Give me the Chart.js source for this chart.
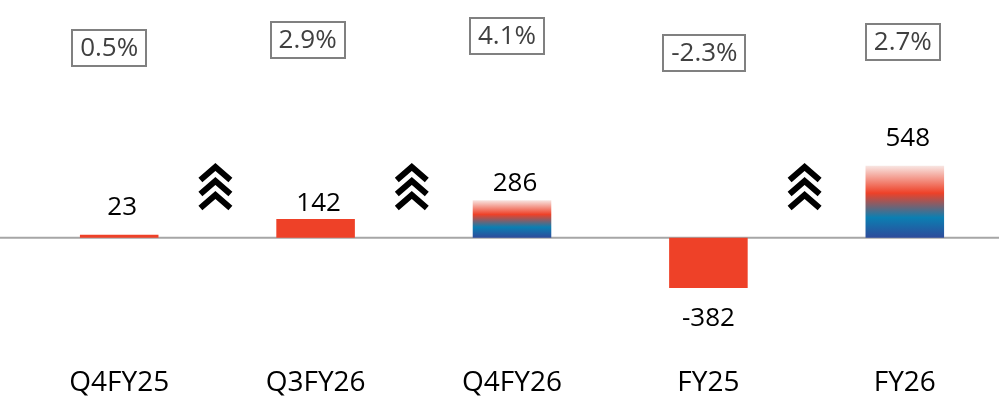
<!DOCTYPE html>
<html>
<head>
<meta charset="utf-8">
<script src="https://cdn.jsdelivr.net/npm/chart.js@4/dist/chart.umd.min.js"></script>
<style>
  html, body { margin: 0; padding: 0; background: #fff; overflow: hidden; }
  #wrap { width: 1003px; height: 407px; position: relative; }
</style>
</head>
<body>
<div id="wrap"><canvas id="chart"></canvas></div>
<script>
// data
const categories = ['Q4FY25', 'Q3FY26', 'Q4FY26', 'FY25', 'FY26'];
const values = [23, 142, 286, -382, 548];
const growthLabels = ['0.5%', '2.9%', '4.1%', '-2.3%', '2.7%'];
const gradientBars = [false, false, true, false, true];
const arrowsAfter = [0, 1, 3]; // chevrons between bar i and i+1

// layout bits for the annotations
const boxTop = [30, 22, 18, 35, 24];
const boxDx = [-10, -8, -5, -4, -2];
const labelGap = [18, 6, 8, 22, 18];

const RED = '#EE4128';
const FONT = '"Open Sans", "DejaVu Sans", sans-serif';

function barColor(ctx) {
  const i = ctx.dataIndex;
  if (!gradientBars[i]) return RED;
  const chart = ctx.chart;
  const y = chart.scales.y;
  if (!chart.chartArea || !y) return RED;
  const top = y.getPixelForValue(values[i]);
  const base = y.getPixelForValue(0);
  const g = chart.ctx.createLinearGradient(0, top, 0, base);
  g.addColorStop(0, '#F8E6E3');
  g.addColorStop(0.38, '#EE4128');
  g.addColorStop(0.72, '#0B7FB2');
  g.addColorStop(1, '#2E4B9B');
  return g;
}

const annotations = {
  id: 'annotations',
  beforeDatasetsDraw(chart) {
    const c = chart.ctx;
    const zero = chart.scales.y.getPixelForValue(0);
    c.save();
    c.strokeStyle = '#A6A6A6';
    c.lineWidth = 2;
    c.beginPath();
    c.moveTo(0, zero);
    c.lineTo(chart.width, zero);
    c.stroke();
    c.restore();
  },
  afterDatasetsDraw(chart) {
    const c = chart.ctx;
    const bars = chart.getDatasetMeta(0).data;
    c.save();
    c.font = '26px ' + FONT;
    c.textAlign = 'center';

    // value labels
    c.fillStyle = '#000';
    bars.forEach((bar, i) => {
      if (values[i] >= 0) {
        c.textBaseline = 'bottom';
        c.fillText(values[i], bar.x + 3, bar.y - labelGap[i] + 4);
      } else {
        c.textBaseline = 'top';
        c.fillText(values[i], bar.x, bar.y + labelGap[i] - 4);
      }
    });

    // growth boxes
    c.textBaseline = 'middle';
    bars.forEach((bar, i) => {
      const w = c.measureText(growthLabels[i]).width + 16;
      const h = 36;
      const cx = bar.x + boxDx[i];
      c.strokeStyle = '#808080';
      c.lineWidth = 2;
      c.strokeRect(Math.round(cx - w / 2), boxTop[i], Math.round(w), h);
      c.fillStyle = '#404040';
      c.fillText(growthLabels[i], cx, boxTop[i] + h / 2 + 1);
    });

    // chevrons
    c.strokeStyle = '#000';
    c.lineWidth = 6;
    c.lineJoin = 'miter';
    arrowsAfter.forEach(i => {
      const cx = (bars[i].x + bars[i + 1].x) / 2 - 2;
      for (let k = 0; k < 3; k++) {
        const y = 167 + k * 14;
        c.beginPath();
        c.moveTo(cx - 15, y + 13);
        c.lineTo(cx, y);
        c.lineTo(cx + 15, y + 13);
        c.stroke();
      }
    });
    c.restore();
  }
};

new Chart(document.getElementById('chart'), {
  type: 'bar',
  data: {
    labels: categories,
    datasets: [{
      data: values,
      backgroundColor: barColor,
      borderWidth: 0,
      barPercentage: 1,
      categoryPercentage: 0.4
    }]
  },
  options: {
    responsive: true,
    maintainAspectRatio: false,
    animation: false,
    layout: { padding: { left: 21, right: 0, top: 0, bottom: 7 } },
    plugins: { legend: { display: false }, tooltip: { enabled: false } },
    scales: {
      x: {
        grid: { display: false },
        border: { display: false },
        ticks: { color: '#000', font: { size: 28, family: FONT }, padding: 0, maxRotation: 0 }
      },
      y: { display: false, min: -918, max: 1809 }
    }
  },
  plugins: [annotations]
});
</script>
</body>
</html>
